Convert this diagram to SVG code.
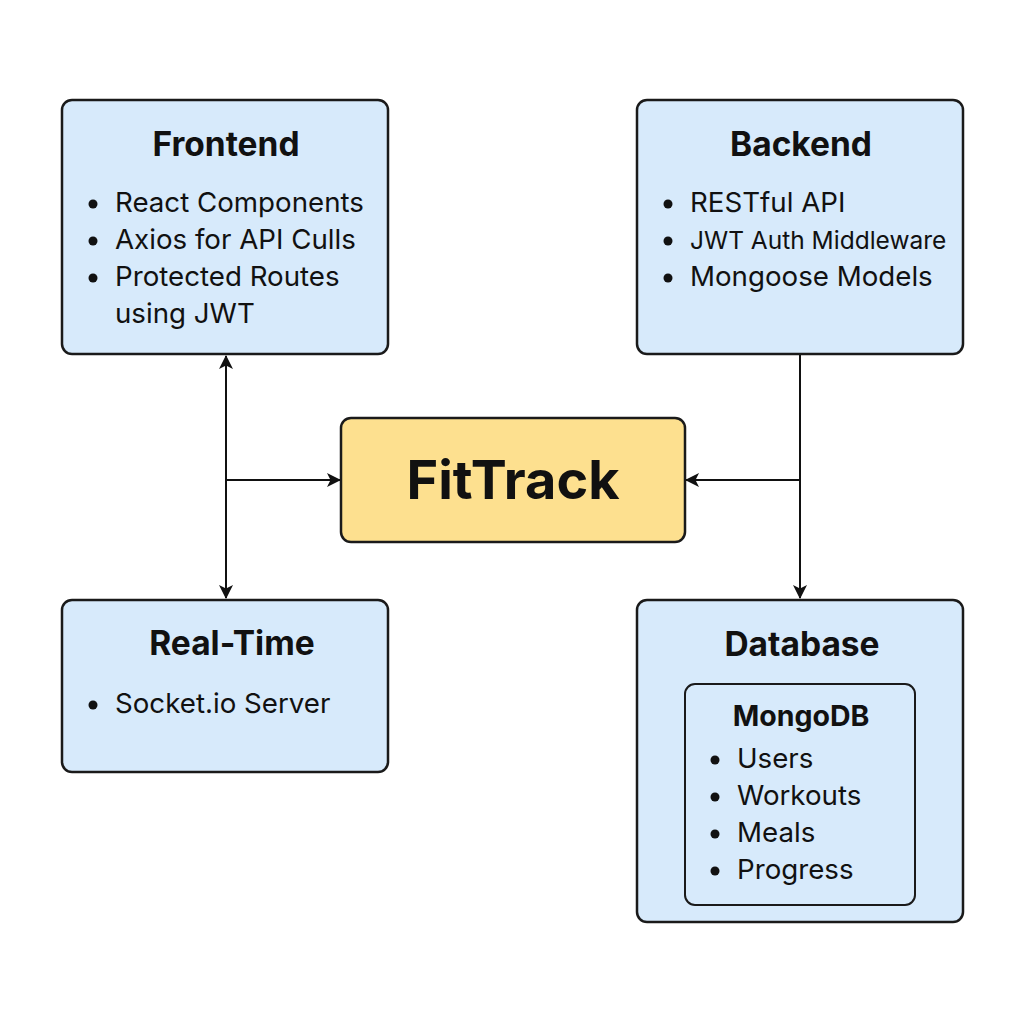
<svg xmlns="http://www.w3.org/2000/svg" width="1024" height="1024" viewBox="0 0 1024 1024">
<defs>
<marker id="arr" viewBox="0 0 14 14" refX="13" refY="7" markerWidth="14" markerHeight="14" markerUnits="userSpaceOnUse" orient="auto-start-reverse">
<path d="M0,0 L14,7 L0,14 L3.5,7 Z" fill="#111"/>
</marker>
<style>
.box{fill:#D7EAFB;stroke:#1a1a1a;stroke-width:2.5}
.core{fill:#FDE08F;stroke:#1a1a1a;stroke-width:2.5}
.title{font-family:Inter,"Noto Sans",sans-serif;font-weight:700;font-size:33.5px;fill:#111;text-anchor:middle}
.sub{font-family:Inter,"Noto Sans",sans-serif;font-weight:700;font-size:28.5px;fill:#111;text-anchor:middle}
.item{font-family:Inter,"Noto Sans",sans-serif;font-size:27.7px;fill:#111}
.dot{fill:#111}
.conn{stroke:#111;stroke-width:2;fill:none}
</style>
</defs>
<rect width="1024" height="1024" fill="#fff"/>
<g id="connectors">
<line class="conn" x1="226" y1="356" x2="226" y2="598" marker-start="url(#arr)" marker-end="url(#arr)"/>
<line class="conn" x1="226" y1="480" x2="340" y2="480" marker-end="url(#arr)"/>
<line class="conn" x1="800" y1="355" x2="800" y2="598" marker-end="url(#arr)"/>
<line class="conn" x1="800" y1="480" x2="686" y2="480" marker-end="url(#arr)"/>
</g>
<g id="frontend">
<rect class="box" x="62" y="100" width="326" height="254" rx="10"/>
<text class="title" x="226" y="156">Frontend</text>
<circle class="dot" cx="93" cy="204" r="4.5"/>
<circle class="dot" cx="93" cy="241" r="4.5"/>
<circle class="dot" cx="93" cy="278" r="4.5"/>
<text class="item" x="115" y="212">React Components</text>
<text class="item" x="115" y="249">Axios for API Culls</text>
<text class="item" x="115" y="286">Protected Routes</text>
<text class="item" x="115" y="323">using JWT</text>
</g>
<g id="backend">
<rect class="box" x="637" y="100" width="326" height="254" rx="10"/>
<text class="title" x="801" y="156">Backend</text>
<circle class="dot" cx="668" cy="204" r="4.5"/>
<circle class="dot" cx="668" cy="241" r="4.5"/>
<circle class="dot" cx="668" cy="278" r="4.5"/>
<text class="item" x="690" y="212">RESTful API</text>
<text class="item" x="690" y="249" style="font-size:24.5px">JWT Auth Middleware</text>
<text class="item" x="690" y="286">Mongoose Models</text>
</g>
<g id="fittrack">
<rect class="core" x="341" y="418" width="344" height="124" rx="10"/>
<text class="title" x="513" y="499" style="font-size:54px">FitTrack</text>
</g>
<g id="realtime">
<rect class="box" x="62" y="600" width="326" height="172" rx="10"/>
<text class="title" x="232" y="655">Real-Time</text>
<circle class="dot" cx="93" cy="705" r="4.5"/>
<text class="item" x="115" y="713">Socket.io Server</text>
</g>
<g id="database">
<rect class="box" x="637" y="600" width="326" height="322" rx="10"/>
<text class="title" x="802" y="656">Database</text>
<rect class="box" x="685" y="684" width="230" height="221" rx="10" style="stroke-width:2"/>
<text class="sub" x="801" y="726">MongoDB</text>
<circle class="dot" cx="715" cy="760" r="4.5"/>
<circle class="dot" cx="715" cy="797" r="4.5"/>
<circle class="dot" cx="715" cy="834" r="4.5"/>
<circle class="dot" cx="715" cy="871" r="4.5"/>
<text class="item" x="737" y="768">Users</text>
<text class="item" x="737" y="805">Workouts</text>
<text class="item" x="737" y="842">Meals</text>
<text class="item" x="737" y="879">Progress</text>
</g>
</svg>
